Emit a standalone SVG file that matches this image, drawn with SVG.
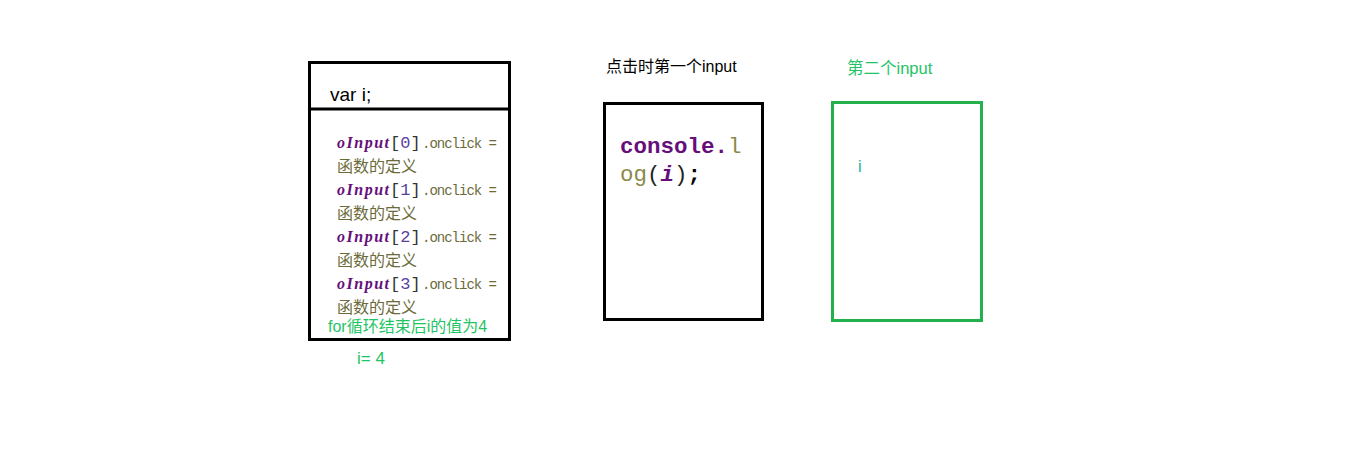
<svg xmlns="http://www.w3.org/2000/svg" width="1360" height="460" viewBox="0 0 1360 460">
<style>
.box{fill:#fff;stroke:#000;stroke-width:3}
.gbox{fill:#fff;stroke:#22b14c;stroke-width:3}
.sans{font-family:"Liberation Sans","Noto Sans CJK SC",sans-serif}
.oi{font-family:"Liberation Serif",serif;font-style:italic;font-weight:bold;fill:#660e7a;font-size:16px}
.br{font-family:"Liberation Mono",monospace;fill:#333;font-size:17px}
.num{fill:#5a3fa0}
.mono{font-family:"Liberation Mono",monospace;fill:#6b6b3a;font-size:14px;letter-spacing:-1px}
.def{font-family:"Noto Sans CJK SC",sans-serif;fill:#6b6b3a;font-size:16px}
.green{fill:#1fc465}
.code{font-family:"Liberation Mono",monospace;font-size:22.5px;font-weight:bold}
</style>
<g id="node-var">
<rect class="box" x="309.5" y="62.5" width="200" height="277"/>
<line x1="309" y1="109" x2="510" y2="109" stroke="#000" stroke-width="3"/>
<text class="sans" x="330" y="101" font-size="19" fill="#000">var i;</text>
<text y="148"><tspan class="oi" x="337" textLength="52">oInput</tspan><tspan class="br" x="390">[<tspan class="num">0</tspan>]</tspan><tspan class="mono" x="422">.onclick =</tspan></text>
<text class="def" x="337" y="172">函数的定义</text>
<text y="195"><tspan class="oi" x="337" textLength="52">oInput</tspan><tspan class="br" x="390">[<tspan class="num">1</tspan>]</tspan><tspan class="mono" x="422">.onclick =</tspan></text>
<text class="def" x="337" y="219">函数的定义</text>
<text y="242"><tspan class="oi" x="337" textLength="52">oInput</tspan><tspan class="br" x="390">[<tspan class="num">2</tspan>]</tspan><tspan class="mono" x="422">.onclick =</tspan></text>
<text class="def" x="337" y="266">函数的定义</text>
<text y="289"><tspan class="oi" x="337" textLength="52">oInput</tspan><tspan class="br" x="390">[<tspan class="num">3</tspan>]</tspan><tspan class="mono" x="422">.onclick =</tspan></text>
<text class="def" x="337" y="313">函数的定义</text>
<text class="sans green" x="328" y="332" font-size="16">for循环结束后i的值为4</text>
</g>
<text class="sans green" x="357" y="364" font-size="17">i= 4</text>
<g id="node-first">
<text class="sans" x="606" y="72" font-size="16" fill="#000">点击时第一个input</text>
<rect class="box" x="604.5" y="103.5" width="158" height="216"/>
<text class="code" x="620" y="153"><tspan fill="#660e7a">console.</tspan><tspan fill="#8a8a4a" font-weight="normal">l</tspan></text>
<text class="code" x="620" y="181"><tspan fill="#8a8a4a" font-weight="normal">og</tspan><tspan fill="#222" font-weight="normal">(</tspan><tspan fill="#660e7a" font-style="italic">i</tspan><tspan fill="#222" font-weight="normal">)</tspan><tspan fill="#000">;</tspan></text>
</g>
<g id="node-second">
<text class="sans green" x="847" y="74" font-size="16.5">第二个input</text>
<rect class="gbox" x="832.5" y="102.5" width="149" height="218"/>
<text class="sans" x="858" y="172" font-size="16" fill="#1aae9f">i</text>
</g>
<g id="connectors"></g>
</svg>
